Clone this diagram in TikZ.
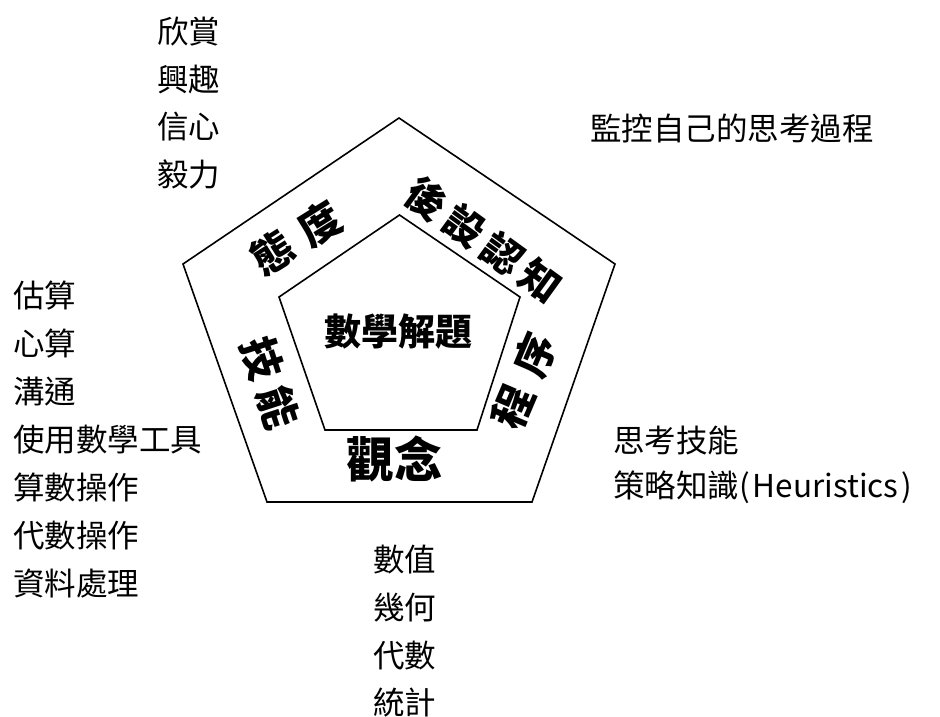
\documentclass[tikz,border=0pt]{standalone}
\usepackage{fontspec}
\newfontfamily\cjk{Noto Sans CJK TC}
\tikzset{
  pent/.style={draw=black, line width=1.6pt, line join=miter},
  item/.style={anchor=west, inner sep=0pt, font=\cjk\fontsize{31.5}{31.5}\selectfont},
  biglabel/.style={inner sep=0pt, font=\cjk\bfseries\fontsize{42}{42}\selectfont},
}
\begin{document}
\begin{tikzpicture}[x=1pt,y=-1pt]
\useasboundingbox (0,0) rectangle (940,717);
% pentagons
\coordinate (o1) at (399,118);
\coordinate (o2) at (615,264);
\coordinate (o3) at (532,502);
\coordinate (o4) at (267,502);
\coordinate (o5) at (183,264);
\coordinate (i1) at (399.5,215);
\coordinate (i2) at (520,297);
\coordinate (i3) at (477,430);
\coordinate (i4) at (325,430);
\coordinate (i5) at (279,297);
\draw[pent] (o1) -- (o2) -- (o3) -- (o4) -- (o5) -- cycle;
\draw[pent] (i1) -- (i2) -- (i3) -- (i4) -- (i5) -- cycle;
% labels in the ring
\node[biglabel, rotate=32] (att) at (296,238) {態\hspace{13pt}度};
\node[biglabel, rotate=-36, font=\cjk\bfseries\fontsize{40}{40}\selectfont] (meta) at (484,240) {後\hspace{7pt}設\hspace{7pt}認\hspace{7pt}知};
\node[biglabel, rotate=-72] (skill) at (270,383) {技\hspace{10pt}能};
\node[biglabel, rotate=67] (proc) at (524,381) {程\hspace{14pt}序};
\node[biglabel, font=\cjk\bfseries\fontsize{48}{48}\selectfont] (concept) at (394,459) {觀念};
\node[biglabel, font=\cjk\bfseries\fontsize{37}{37}\selectfont] (center) at (398,332) {數學解題};
% attitude list
\node[item] (a1) at (157,32) {欣賞};
\node[item] (a2) at (157,79.5) {興趣};
\node[item] (a3) at (157,127) {信心};
\node[item] (a4) at (157,174.5) {毅力};
% metacognition
\node[item] (m1) at (590,128) {監控自己的思考過程};
% skills list
\node[item] (s1) at (13,296) {估算};
\node[item] (s2) at (13,344) {心算};
\node[item] (s3) at (13,392) {溝通};
\node[item] (s4) at (13,440) {使用數學工具};
\node[item] (s5) at (13,488) {算數操作};
\node[item] (s6) at (13,536) {代數操作};
\node[item] (s7) at (13,584) {資料處理};
% processes
\node[item] (p1) at (613,441) {思考技能};
\node[item] (p2) at (613,487) {策略知識(\hspace{3pt}Heuristics\hspace{3pt})};
% concepts
\node[item] (c1) at (373,560) {數值};
\node[item] (c2) at (373,608) {幾何};
\node[item] (c3) at (373,656) {代數};
\node[item] (c4) at (373,703) {統計};
\end{tikzpicture}
\end{document}
